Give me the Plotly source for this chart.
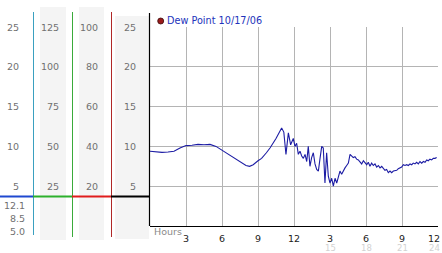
import plotly.graph_objects as go

# ---------------- data ----------------
hours = [0.0, 0.5, 1.0, 1.5, 2.0, 2.5, 3.0, 3.5, 4.0, 4.5, 5.0, 5.5, 6.0, 6.5, 7.0, 7.5, 8.0, 8.3, 8.6,
         9.0, 9.3, 9.7, 10.0, 10.5, 10.8, 10.97, 11.15, 11.33, 11.53, 11.72, 11.94, 12.08, 12.22, 12.36,
         12.5, 12.64, 12.78, 12.92, 13.06, 13.19, 13.33, 13.47, 13.61, 13.75, 13.89, 14.03, 14.17, 14.31,
         14.44, 14.58, 14.72, 14.86, 15.0, 15.14, 15.28, 15.42, 15.56, 15.69, 15.83, 15.97, 16.11, 16.25,
         16.39, 16.53, 16.67, 16.81, 16.94, 17.08, 17.22, 17.36, 17.5, 17.64, 17.78, 17.92, 18.06, 18.19,
         18.33, 18.47, 18.61, 18.75, 18.89, 19.03, 19.17, 19.31, 19.44, 19.58, 19.72, 19.86, 20.0, 20.14,
         20.28, 20.42, 20.56, 20.69, 20.83, 20.97, 21.11, 21.25, 21.39, 21.53, 21.67, 21.81, 21.94, 22.08,
         22.22, 22.36, 22.5, 22.64, 22.78, 22.92, 23.06, 23.19, 23.33, 23.47, 23.61, 23.75, 23.89]
dew_point = [9.4, 9.35, 9.25, 9.3, 9.4, 9.8, 10.1, 10.15, 10.25, 10.2, 10.25, 10.0, 9.5, 9.0, 8.6, 8.1, 7.6, 7.5, 7.7,
             8.2, 8.5, 9.2, 9.8, 11.0, 11.8, 12.3, 11.8, 9.0, 11.7, 10.2, 11.0, 10.0, 10.4, 9.0,
             9.4, 8.8, 8.5, 9.0, 8.1, 10.0, 7.5, 8.6, 9.2, 7.8, 7.1, 6.9, 8.5, 10.0,
             9.8, 5.4, 9.2, 6.25, 5.4, 6.0, 5.0, 6.0, 5.4, 6.0, 6.9, 6.5, 7.0, 7.3,
             7.6, 7.9, 9.0, 8.8, 8.6, 8.7, 8.4, 8.3, 8.1, 7.8, 8.2, 7.9, 7.7, 8.0,
             7.5, 7.9, 7.6, 7.8, 7.4, 7.6, 7.3, 7.5, 7.2, 7.0, 7.1, 6.7, 6.9, 6.7,
             6.9, 7.0, 7.0, 7.2, 7.3, 7.4, 7.7, 7.6, 7.7, 7.6, 7.8, 7.7, 7.9, 7.8,
             8.0, 7.8, 8.1, 7.9, 8.1, 8.0, 8.3, 8.2, 8.4, 8.3, 8.5, 8.5, 8.6]

series_name = "Dew Point 10/17/06"

y_grid_vals = [25, 20, 15, 10, 5]
scale1_labels = ["25", "20", "15", "10", "5"]
scale2_labels = ["125", "100", "75", "50", "25"]
scale3_labels = ["100", "80", "60", "40", "20"]
scale4_labels = ["25", "20", "15", "10", "5"]
lower_labels = ["12.1", "8.5", "5.0"]

x_tick_vals = [3, 6, 9, 12, 15, 18, 21, 24]
x_tick_text = ["3", "6", "9", "12", "3", "6", "9", "12"]
x_tick_text2 = ["", "", "", "", "15", "18", "21", "24"]
x_axis_title = "Hours"

# ---------------- geometry helpers (pixel -> paper) ----------------
W, H = 442, 253
ML, MR, MT, MB = 150, 4, 27, 27
PW, PH = W - ML - MR, H - MT - MB


def px(x):
    return (x - ML) / PW


def py(y):
    return (H - MB - y) / PH


fig = go.Figure()

fig.add_trace(go.Scatter(x=hours, y=dew_point, mode="lines",
                         line=dict(color="#1c1ca4", width=1.1),
                         showlegend=False, hoverinfo="skip"))

# tiny tick glyphs on the axes
fig.add_trace(go.Scatter(x=[-0.21] * len(y_grid_vals), y=y_grid_vals, mode="markers",
                         marker=dict(symbol="x-thin", size=3, line=dict(width=1, color="#444")),
                         cliponaxis=False, showlegend=False, hoverinfo="skip"))
fig.add_trace(go.Scatter(x=x_tick_vals, y=[-0.72] * len(x_tick_vals), mode="markers",
                         marker=dict(symbol="x-thin", size=3, line=dict(width=1, color="#444")),
                         cliponaxis=False, showlegend=False, hoverinfo="skip"))

shapes = []
# gray column bands
for x0, x1, y0, y1 in [(40, 66, 7, 240), (79, 104, 7, 240), (115, 149, 16, 239)]:
    shapes.append(dict(type="rect", xref="paper", yref="paper", x0=px(x0), x1=px(x1),
                       y0=py(y1), y1=py(y0), fillcolor="#f4f4f4", line=dict(width=0), layer="below"))
# vertical scale lines
for x, col, yb in [(33.5, "#3aa0c0", 235), (72.5, "#3aaa3a", 237), (111.5, "#b02828", 237)]:
    shapes.append(dict(type="line", xref="paper", yref="paper", x0=px(x), x1=px(x),
                       y0=py(yb), y1=py(12), line=dict(color=col, width=1)))
# black axis line (extends above grid)
shapes.append(dict(type="line", xref="paper", yref="paper", x0=px(149.5), x1=px(149.5),
                   y0=py(226), y1=py(13), line=dict(color="black", width=1.2)))
# horizontal coloured bar
for x0, x1, col in [(0, 33, "#1f48d0"), (33, 72, "#2cb02c"), (72, 111, "#e01c1c"), (111, 150, "#000000")]:
    shapes.append(dict(type="line", xref="paper", yref="paper", x0=px(x0), x1=px(x1),
                       y0=py(196.5), y1=py(196.5), line=dict(color=col, width=2.2)))
# legend dot
shapes.append(dict(type="circle", xref="paper", yref="paper", x0=px(157.7), x1=px(163.7),
                   y0=py(24), y1=py(18), fillcolor="#9b1a1a", line=dict(color="#3a0a0a", width=0.8)))

annotations = []
lab_font = dict(family="DejaVu Sans", size=9.5, color="#707070")
for labels, xr in [(scale1_labels, 21), (scale2_labels, 61), (scale3_labels, 100), (scale4_labels, 138)]:
    for v, t in zip(y_grid_vals, labels):
        annotations.append(dict(x=px(xr), y=v, xref="paper", yref="y", text=t, showarrow=False,
                                xanchor="right", yanchor="middle", font=lab_font))
for t, yy in zip(lower_labels, [205, 218, 232]):
    annotations.append(dict(x=px(27), y=py(yy), xref="paper", yref="paper", text=t, showarrow=False,
                            xanchor="right", yanchor="middle", font=lab_font))
annotations.append(dict(x=px(164.5), y=py(20.7), xref="paper", yref="paper", text=series_name,
                        showarrow=False, xanchor="left", yanchor="middle",
                        font=dict(family="DejaVu Sans", size=9.7, color="#2233bb")))
annotations.append(dict(x=px(152), y=py(232), xref="paper", yref="paper", text=x_axis_title,
                        showarrow=False, xanchor="left", yanchor="middle",
                        font=dict(family="DejaVu Sans", size=9.5, color="#8a8a8a")))
x_max = max(x_tick_vals)
for v, t in zip(x_tick_vals, x_tick_text):
    edge = v == x_max
    annotations.append(dict(x=v, y=py(238), xref="x", yref="paper", text=t, showarrow=False,
                            xanchor="right" if edge else "center", xshift=4 if edge else 0,
                            yanchor="middle",
                            font=dict(family="DejaVu Sans", size=9.5, color="#222")))
for v, t in zip(x_tick_vals, x_tick_text2):
    if t:
        edge = v == x_max
        annotations.append(dict(x=v, y=py(248), xref="x", yref="paper", text=t, showarrow=False,
                                xanchor="right" if edge else "center", xshift=4 if edge else 0,
                                yanchor="middle",
                                font=dict(family="DejaVu Sans", size=8.5, color="#d2d2d2")))

fig.update_layout(
    width=W, height=H, margin=dict(l=ML, r=MR, t=MT, b=MB, pad=0),
    paper_bgcolor="white", plot_bgcolor="white",
    shapes=shapes, annotations=annotations, showlegend=False,
    xaxis=dict(range=[0, 24], tickvals=x_tick_vals, showticklabels=False, showgrid=True,
               gridcolor="#b4b4b4", gridwidth=1, showline=True, linecolor="black", linewidth=1.2,
               zeroline=False, ticks=""),
    yaxis=dict(range=[0, 25], tickvals=y_grid_vals, showticklabels=False, showgrid=True,
               gridcolor="#b4b4b4", gridwidth=1, showline=False, zeroline=False, ticks=""),
)

fig.write_html("out.html")
